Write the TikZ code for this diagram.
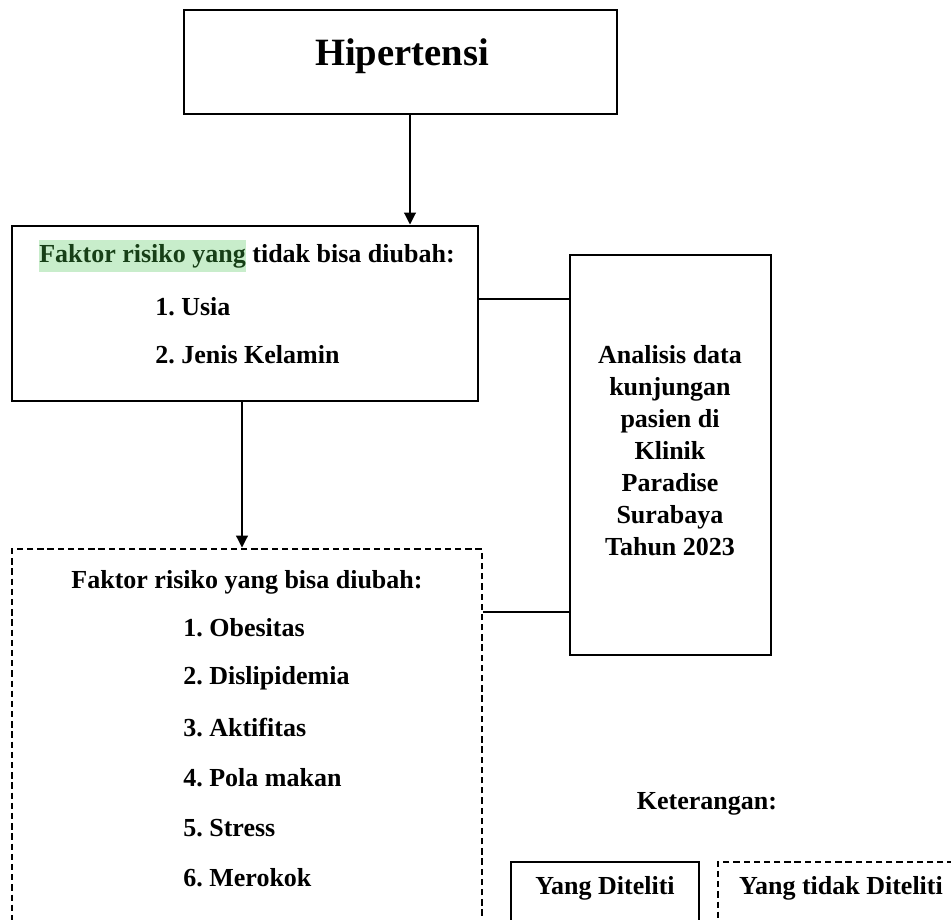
\documentclass[tikz,border=0pt]{standalone}
\usepackage{fontspec}
\setmainfont{Liberation Serif}
\usetikzlibrary{arrows.meta}
\definecolor{hlgreen}{HTML}{C8EDCB}
\definecolor{hltext}{HTML}{173F17}
\frenchspacing
\begin{document}
\begin{tikzpicture}[x={(0.02cm,0cm)}, y={(0cm,-0.02cm)},
  >={Triangle[length=2.4mm,width=2.3mm]},
  kotak/.style={draw, line width=1.6pt, inner sep=0pt},
  putus/.style={kotak, dash pattern=on 3.6pt off 2.2pt},
  teks/.style={inner sep=0pt, font=\bfseries\fontsize{14.8}{18.2}\selectfont},
  garis/.style={line width=1.3pt}]
  \useasboundingbox (0,0) rectangle (951,920);

  % Kotak utama
  \node[kotak, line width=1.3pt, minimum width=8.66cm, minimum height=2.08cm] (hip) at (400.5,62) {};
  \node[teks, font=\bfseries\fontsize{22}{26}\selectfont] (hipT) at (402,56) {Hipertensi};

  % Faktor risiko yang tidak bisa diubah
  \node[kotak, minimum width=9.32cm, minimum height=3.5cm] (fA) at (245,313.5) {};
  \node[teks] (fAT) at (247,256)
    {{\setlength\fboxsep{0pt}\colorbox{hlgreen}{\color{hltext}\strut Faktor risiko yang}} tidak bisa diubah:};
  \node[teks, anchor=west] (usia) at (155,307) {1. Usia};
  \node[teks, anchor=west] (jk) at (155,355) {2. Jenis Kelamin};

  % Analisis data
  \node[kotak, minimum width=4.02cm, minimum height=8cm] (an) at (670.5,455) {};
  \node[teks, align=center] (anT) at (670,451)
    {Analisis data\\kunjungan\\pasien di\\Klinik\\Paradise\\Surabaya\\Tahun 2023};

  % Faktor risiko yang bisa diubah
  \node[putus, minimum width=9.4cm, minimum height=7.72cm] (fB) at (247,742) {};
  \node[teks] (fBT) at (247,582) {Faktor risiko yang bisa diubah:};
  \foreach \isi [count=\i] in {1. Obesitas, 2. Dislipidemia, 3. Aktifitas,
                               4. Pola makan, 5. Stress, 6. Merokok}
  {
    \pgfmathsetmacro{\y}{578 + 50*\i};
    \node[teks, anchor=west] (item\i) at (183,\y) {\isi};
  }

  % Panah dan garis
  \coordinate (p1) at (410,0);
  \coordinate (p2) at (242,0);
  \coordinate (c1) at (0,299);
  \coordinate (c2) at (0,612);
  \draw[garis, ->] (hip.south -| p1) -- (fA.north -| p1);
  \draw[garis, ->] (fA.south -| p2) -- (fB.north -| p2);
  \draw[garis] (fA.east |- c1) -- (an.west |- c1);
  \draw[garis] (fB.east |- c2) -- (an.west |- c2);

  % Keterangan
  \node[teks] (ket) at (707,804) {Keterangan:};
  \node[kotak, minimum width=3.76cm, minimum height=1.56cm] (lg1) at (605,901) {};
  \node[teks] (lg1T) at (605,888) {Yang Diteliti};
  \node[putus, minimum width=4.94cm, minimum height=1.56cm] (lg2) at (841.5,901) {};
  \node[teks] (lg2T) at (841,888) {Yang tidak Diteliti};
\end{tikzpicture}
\end{document}
